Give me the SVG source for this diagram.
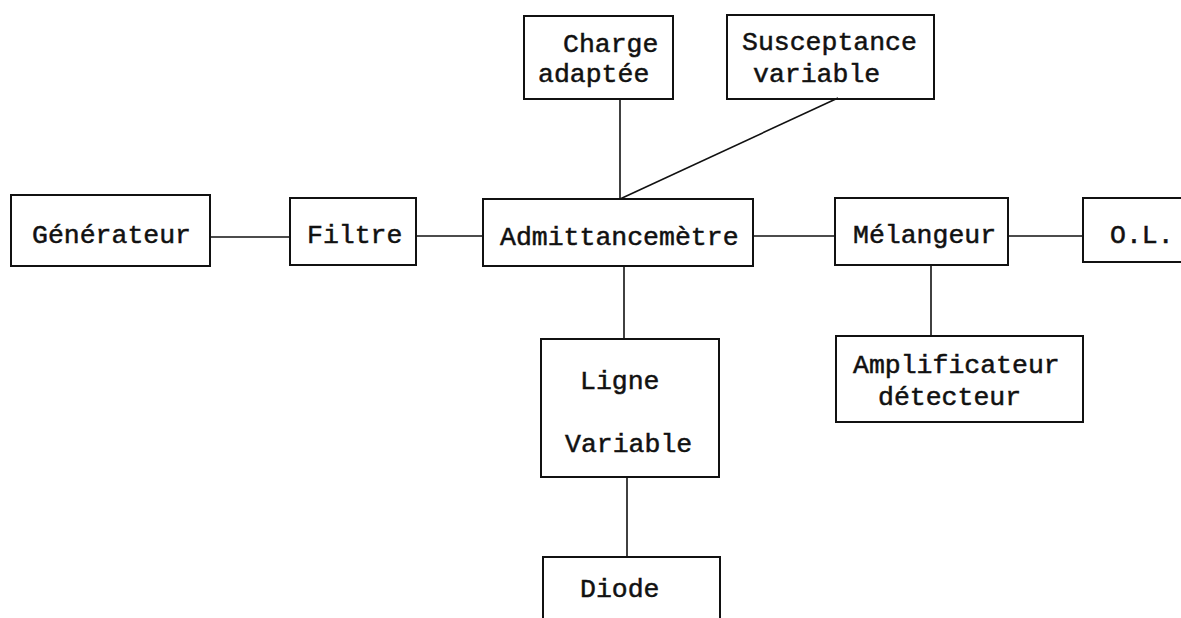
<svg xmlns="http://www.w3.org/2000/svg" width="1181" height="618" viewBox="0 0 1181 618">
  <style>
    .box { fill: none; stroke: #111; stroke-width: 2; }
    .wire { fill: none; stroke: #111; stroke-width: 1.6; }
    .lbl { font-family: "Liberation Mono", "DejaVu Sans Mono", monospace; font-size: 26.5px; fill: #111; stroke: #111; stroke-width: 0.5; }
  </style>
  <rect width="1181" height="618" fill="#fff"/>

  <g id="connectors">
    <line class="wire" x1="210" y1="237" x2="290" y2="237"/>
    <line class="wire" x1="416" y1="236" x2="483" y2="236"/>
    <line class="wire" x1="753" y1="236" x2="835" y2="236"/>
    <line class="wire" x1="1008" y1="236" x2="1083" y2="236"/>
    <line class="wire" x1="620" y1="99" x2="620" y2="199"/>
    <line class="wire" x1="838" y1="98" x2="620" y2="199"/>
    <line class="wire" x1="624" y1="266" x2="624" y2="339"/>
    <line class="wire" x1="627" y1="477" x2="627" y2="557"/>
    <line class="wire" x1="931" y1="265" x2="931" y2="336"/>
  </g>

  <g id="generateur">
    <rect class="box" x="11" y="195" width="199" height="71"/>
    <text class="lbl" x="32" y="243">Générateur</text>
  </g>

  <g id="filtre">
    <rect class="box" x="290" y="198" width="126" height="67"/>
    <text class="lbl" x="307" y="243">Filtre</text>
  </g>

  <g id="admittancemetre">
    <rect class="box" x="483" y="199" width="270" height="67"/>
    <text class="lbl" x="500" y="245">Admittancemètre</text>
  </g>

  <g id="charge-adaptee">
    <rect class="box" x="524" y="16" width="149" height="83"/>
    <text class="lbl" x="563" y="52">Charge</text>
    <text class="lbl" x="538" y="82">adaptée</text>
  </g>

  <g id="susceptance-variable">
    <rect class="box" x="727" y="15" width="207" height="84"/>
    <text class="lbl" x="742" y="50">Susceptance</text>
    <text class="lbl" x="753" y="82">variable</text>
  </g>

  <g id="melangeur">
    <rect class="box" x="835" y="198" width="173" height="67"/>
    <text class="lbl" x="853" y="243">Mélangeur</text>
  </g>

  <g id="oscillateur-local">
    <rect class="box" x="1083" y="198" width="110" height="64"/>
    <text class="lbl" x="1110" y="243">O.L.</text>
  </g>

  <g id="amplificateur-detecteur">
    <rect class="box" x="836" y="336" width="247" height="86"/>
    <text class="lbl" x="853" y="373">Amplificateur</text>
    <text class="lbl" x="878" y="405">détecteur</text>
  </g>

  <g id="ligne-variable">
    <rect class="box" x="541" y="339" width="178" height="138"/>
    <text class="lbl" x="580" y="389">Ligne</text>
    <text class="lbl" x="565" y="452">Variable</text>
  </g>

  <g id="diode">
    <path class="box" d="M543 625 V557 H720 V625"/>
    <text class="lbl" x="580" y="597">Diode</text>
  </g>
</svg>
